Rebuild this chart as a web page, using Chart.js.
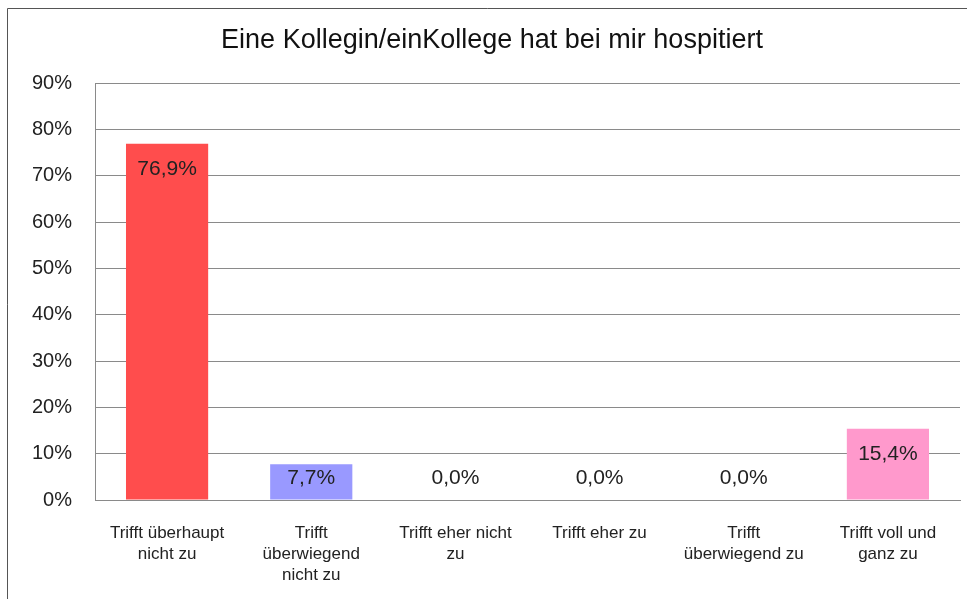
<!DOCTYPE html>
<html>
<head>
<meta charset="utf-8">
<script src="https://cdn.jsdelivr.net/npm/chart.js@4.4.1/dist/chart.umd.min.js"></script>
<style>
  html, body { margin: 0; padding: 0; background: #fff; }
  #wrap { position: relative; width: 967px; height: 599px; }
</style>
</head>
<body>
<div id="wrap"><canvas id="hospChart" width="967" height="599"></canvas></div>
<script>
const categories = [
    ["Trifft überhaupt", "nicht zu"],
    ["Trifft", "überwiegend", "nicht zu"],
    ["Trifft eher nicht", "zu"],
    ["Trifft eher zu"],
    ["Trifft", "überwiegend zu"],
    ["Trifft voll und", "ganz zu"]
];
const values = [76.9, 7.7, 0.0, 0.0, 0.0, 15.4];
const barColors = ["#ff4d4d", "#9999ff", "#9999ff", "#9999ff", "#9999ff", "#ff99cc"];
const yTicks = [0, 10, 20, 30, 40, 50, 60, 70, 80, 90];

const FONT = "'Liberation Sans', Arial, sans-serif";

// outer frame like the original Excel chart area
const framePlugin = {
    id: 'frame',
    beforeDraw(chart) {
        const c = chart.ctx;
        c.save();
        c.strokeStyle = '#555';
        c.lineWidth = 1;
        c.beginPath();
        c.moveTo(7.5, 600);
        c.lineTo(7.5, 8.5);
        c.lineTo(967, 8.5);
        c.stroke();
        c.restore();
    }
};

// value labels: inside the bar top, but never lower than just above the axis
const valueLabels = {
    id: 'valueLabels',
    afterDatasetsDraw(chart) {
        const c = chart.ctx;
        const meta = chart.getDatasetMeta(0);
        const base = chart.scales.y.getPixelForValue(0);
        c.save();
        c.font = '21px ' + FONT;
        c.fillStyle = '#222';
        c.textAlign = 'center';
        c.textBaseline = 'middle';
        meta.data.forEach((bar, i) => {
            const y = Math.min(bar.y + 26, base - 22);
            c.fillText(values[i].toFixed(1).replace('.', ',') + '%', bar.x, y);
        });
        c.restore();
    }
};

new Chart(document.getElementById('hospChart'), {
    type: 'bar',
    data: {
        labels: categories,
        datasets: [{
            data: values,
            backgroundColor: barColors,
            borderWidth: 0,
            barPercentage: 0.57,
            categoryPercentage: 1.0
        }]
    },
    options: {
        responsive: false,
        animation: false,
        layout: { padding: { left: 24, right: 7, top: 0, bottom: 0 } },
        plugins: {
            legend: { display: false },
            tooltip: { enabled: false },
            title: {
                display: true,
                text: 'Eine Kollegin/einKollege hat bei mir hospitiert',
                color: '#111',
                font: { family: FONT, size: 27, weight: 'normal', lineHeight: 1.2 },
                padding: { top: 24, bottom: 26.6 }
            }
        },
        scales: {
            y: {
                min: 0,
                max: 90,
                afterBuildTicks(axis) {
                    axis.ticks = yTicks.map(v => ({ value: v }));
                },
                afterFit(axis) { axis.width = 71; },
                ticks: {
                    padding: 23,
                    color: '#222',
                    font: { family: FONT, size: 20 },
                    callback: v => v + '%'
                },
                grid: { color: '#8a8a8a', lineWidth: 1, drawTicks: false },
                border: { display: true, color: '#8a8a8a', width: 1 }
            },
            x: {
                afterFit(axis) { axis.height = 99; },
                ticks: {
                    padding: 23,
                    color: '#222',
                    maxRotation: 0,
                    autoSkip: false,
                    font: { family: FONT, size: 17, lineHeight: 1.24 }
                },
                grid: { display: false, drawTicks: false },
                border: { display: true, color: '#8a8a8a', width: 1 }
            }
        }
    },
    plugins: [framePlugin, valueLabels]
});
</script>
</body>
</html>
